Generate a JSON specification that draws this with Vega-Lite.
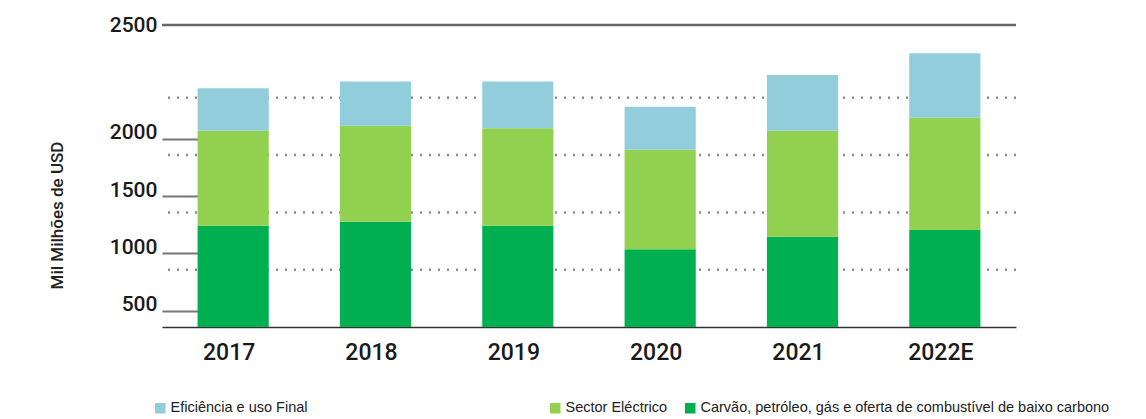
{
  "$schema": "https://vega.github.io/schema/vega-lite/v6.json",
  "width": 854,
  "height": 302,
  "autosize": "none",
  "padding": {"left": 162, "top": 25, "right": 130, "bottom": 92},
  "background": "white",
  "config": {
    "view": {"stroke": null},
    "axis": {"labelFont": "Roboto", "titleFont": "Roboto"},
    "axisX": {
      "title": null,
      "labelAngle": 0,
      "ticks": false,
      "domain": true,
      "domainColor": "#333333",
      "domainWidth": 1.5,
      "labelPadding": 14,
      "labelOffset": -4,
      "labelFontSize": 23,
      "labelFontWeight": 500,
      "labelColor": "#1a1a1a"
    }
  },
  "datasets": {
    "inv": [
      {"ano": "2017", "serie": "Carvão, petróleo, gás e oferta de combustível de baixo carbono", "ordem": 1, "valor": 884},
      {"ano": "2017", "serie": "Sector Eléctrico", "ordem": 2, "valor": 829},
      {"ano": "2017", "serie": "Eficiência e uso Final", "ordem": 3, "valor": 370},
      {"ano": "2018", "serie": "Carvão, petróleo, gás e oferta de combustível de baixo carbono", "ordem": 1, "valor": 919},
      {"ano": "2018", "serie": "Sector Eléctrico", "ordem": 2, "valor": 838},
      {"ano": "2018", "serie": "Eficiência e uso Final", "ordem": 3, "valor": 384},
      {"ano": "2019", "serie": "Carvão, petróleo, gás e oferta de combustível de baixo carbono", "ordem": 1, "valor": 884},
      {"ano": "2019", "serie": "Sector Eléctrico", "ordem": 2, "valor": 850},
      {"ano": "2019", "serie": "Eficiência e uso Final", "ordem": 3, "valor": 407},
      {"ano": "2020", "serie": "Carvão, petróleo, gás e oferta de combustível de baixo carbono", "ordem": 1, "valor": 678},
      {"ano": "2020", "serie": "Sector Eléctrico", "ordem": 2, "valor": 869},
      {"ano": "2020", "serie": "Eficiência e uso Final", "ordem": 3, "valor": 375},
      {"ano": "2021", "serie": "Carvão, petróleo, gás e oferta de combustível de baixo carbono", "ordem": 1, "valor": 788},
      {"ano": "2021", "serie": "Sector Eléctrico", "ordem": 2, "valor": 925},
      {"ano": "2021", "serie": "Eficiência e uso Final", "ordem": 3, "valor": 486},
      {"ano": "2022E", "serie": "Carvão, petróleo, gás e oferta de combustível de baixo carbono", "ordem": 1, "valor": 846},
      {"ano": "2022E", "serie": "Sector Eléctrico", "ordem": 2, "valor": 980},
      {"ano": "2022E", "serie": "Eficiência e uso Final", "ordem": 3, "valor": 562}
    ],
    "grade": [{"v": 500}, {"v": 1000}, {"v": 1500}, {"v": 2000}],
    "topo": [{"v": 2500}]
  },
  "layer": [
    {
      "data": {"name": "grade"},
      "mark": {"type": "rule", "color": "#8c8c8c", "strokeWidth": 2.5, "strokeDash": [2, 7]},
      "encoding": {
        "y": {
          "field": "v",
          "type": "quantitative",
          "scale": {"domain": [0, 2635], "nice": false},
          "axis": {
            "values": [500, 1000, 1500, 2000],
            "format": "d",
            "title": "Mil Milhões de USD",
            "grid": false,
            "domain": false,
            "ticks": true,
            "tickSize": -36,
            "tickOffset": 41,
            "tickColor": "#777777",
            "tickWidth": 2,
            "labelPadding": 41,
            "labelBaseline": "alphabetic",
            "labelAlign": "right",
            "labelFontSize": 21,
            "labelFontWeight": 500,
            "labelColor": "#1a1a1a",
            "titleX": -105,
            "titleY": 190,
            "titleAngle": 270,
            "titleAlign": "center",
            "titleBaseline": "middle",
            "titleFontSize": 17,
            "titleFontWeight": 500,
            "titleColor": "#222222"
          }
        }
      }
    },
    {
      "data": {"name": "inv"},
      "transform": [
        {"stack": "valor", "groupby": ["ano"], "sort": [{"field": "ordem", "order": "ascending"}], "as": ["y0", "y1"]},
        {"filter": "datum.ordem == 1"}
      ],
      "mark": {"type": "bar"},
      "encoding": {
        "x": {"field": "ano", "type": "nominal", "title": null, "scale": {"paddingInner": 0.5, "paddingOuter": 0.25}},
        "y": {"field": "y1", "type": "quantitative", "scale": {"domain": [0, 2635], "nice": false}, "axis": null},
        "y2": {"field": "y0"},
        "color": {
          "field": "serie",
          "type": "nominal",
          "scale": {"domain": ["Carvão, petróleo, gás e oferta de combustível de baixo carbono"], "range": ["#00B050"]},
          "legend": {"orient": "none", "legendX": 521, "legendY": 376, "title": null, "symbolType": "square", "symbolSize": 110, "labelFont": "Liberation Sans", "labelFontSize": 14.5, "labelColor": "#222222", "labelLimit": 700, "labelOffset": 3, "padding": 0}
        }
      }
    },
    {
      "data": {"name": "inv"},
      "transform": [
        {"stack": "valor", "groupby": ["ano"], "sort": [{"field": "ordem", "order": "ascending"}], "as": ["y0", "y1"]},
        {"filter": "datum.ordem == 2"}
      ],
      "mark": {"type": "bar"},
      "encoding": {
        "x": {"field": "ano", "type": "nominal", "title": null, "scale": {"paddingInner": 0.5, "paddingOuter": 0.25}},
        "y": {"field": "y1", "type": "quantitative", "scale": {"domain": [0, 2635], "nice": false}, "axis": null},
        "y2": {"field": "y0"},
        "color": {
          "field": "serie",
          "type": "nominal",
          "scale": {"domain": ["Sector Eléctrico"], "range": ["#92D050"]},
          "legend": {"orient": "none", "legendX": 386, "legendY": 376, "title": null, "symbolType": "square", "symbolSize": 110, "labelFont": "Liberation Sans", "labelFontSize": 14.5, "labelColor": "#222222", "labelLimit": 700, "labelOffset": 3, "padding": 0}
        }
      }
    },
    {
      "data": {"name": "inv"},
      "transform": [
        {"stack": "valor", "groupby": ["ano"], "sort": [{"field": "ordem", "order": "ascending"}], "as": ["y0", "y1"]},
        {"filter": "datum.ordem == 3"}
      ],
      "mark": {"type": "bar"},
      "encoding": {
        "x": {"field": "ano", "type": "nominal", "title": null, "scale": {"paddingInner": 0.5, "paddingOuter": 0.25}},
        "y": {"field": "y1", "type": "quantitative", "scale": {"domain": [0, 2635], "nice": false}, "axis": null},
        "y2": {"field": "y0"},
        "color": {
          "field": "serie",
          "type": "nominal",
          "scale": {"domain": ["Eficiência e uso Final"], "range": ["#92CDDC"]},
          "legend": {"orient": "none", "legendX": -9, "legendY": 376, "title": null, "symbolType": "square", "symbolSize": 110, "labelFont": "Liberation Sans", "labelFontSize": 14.5, "labelColor": "#222222", "labelLimit": 700, "labelOffset": 3, "padding": 0}
        }
      }
    },
    {
      "data": {"name": "topo"},
      "mark": {"type": "rule", "color": "#666666", "strokeWidth": 2.5},
      "encoding": {
        "y": {
          "field": "v",
          "type": "quantitative",
          "scale": {"domain": [0, 2500], "nice": false},
          "axis": {
            "orient": "left",
            "values": [2500],
            "format": "d",
            "title": null,
            "grid": false,
            "domain": false,
            "ticks": false,
            "labelPadding": 5,
            "labelBaseline": "middle",
            "labelFontSize": 21,
            "labelFontWeight": 500,
            "labelColor": "#1a1a1a"
          }
        }
      }
    }
  ],
  "resolve": {"scale": {"y": "independent", "color": "independent"}}
}
